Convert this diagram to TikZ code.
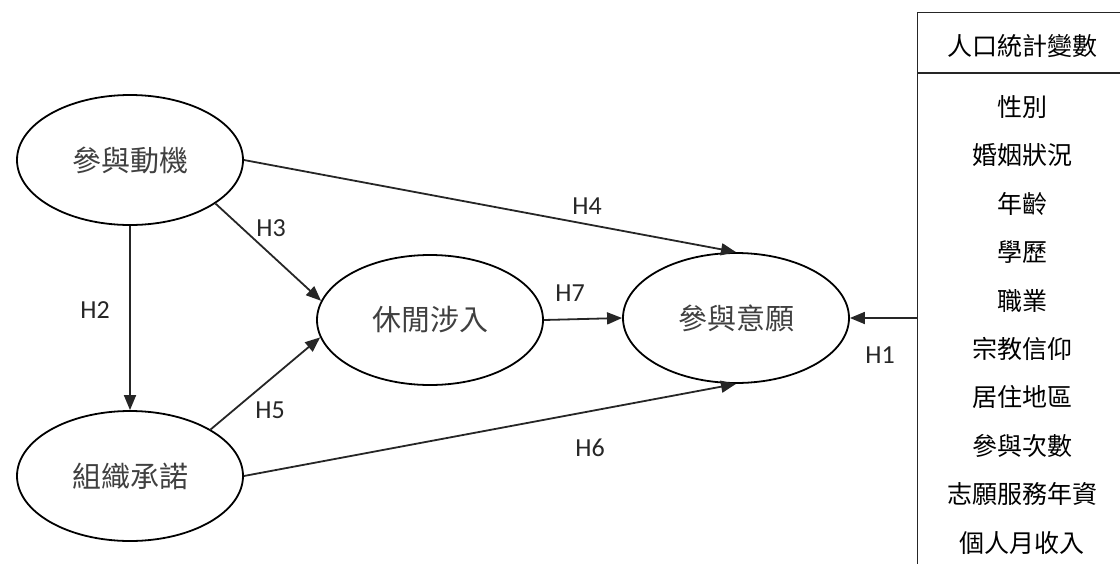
\documentclass[tikz,border=0pt]{standalone}
\usepackage{fontspec}
\setmainfont{Carlito}
\newfontfamily\cjk{Noto Sans CJK TC}
\usetikzlibrary{arrows.meta, shapes.geometric}
\definecolor{ink}{HTML}{262626}
\definecolor{txtgray}{HTML}{404040}

\begin{document}
\begin{tikzpicture}[x=1pt, y=-1pt,
  latent/.style = {draw=black, line width=1.8pt, ellipse, minimum width=226pt, minimum height=130pt, inner sep=0pt, font=\cjk\fontsize{29}{34}\selectfont, text=txtgray},
  arr/.style    = {-{Triangle[length=15pt,width=12pt]}, line width=1.8pt, color=ink},
  hlbl/.style   = {font=\fontsize{26}{30}\selectfont, text=ink, inner sep=0pt},
  item/.style   = {font=\cjk\fontsize{25}{30}\selectfont, text=black, inner sep=0pt},
]
\useasboundingbox (0,0) rectangle (1120,563);
%%--- Latent constructs ---
\node[latent] (mot)     at (130, 160) {參與動機};
\node[latent] (org)     at (130, 476) {組織承諾};
\node[latent] (leis)    at (430, 320) {休閒涉入};
\node[latent] (intent)  at (736, 318) {參與意願};
%%--- Demographic variables (box runs off the page edge) ---
\node[draw=ink, line width=1.2pt, anchor=north west, minimum width=230pt, minimum height=580pt, inner sep=0pt] (demog) at (917, 12) {};
\draw[ink, line width=1.2pt] (917, 73) -- (1130, 73);
\node[item] (dhead) at (1022, 46) {人口統計變數};
\foreach \txt [count=\i from 0] in {性別, 婚姻狀況, 年齡, 學歷, 職業, 宗教信仰, 居住地區, 參與次數, 志願服務年資, 個人月收入}
  \node[item] (d\i) at (1022, 107+48.4*\i) {\txt};
%%--- Hypothesised paths ---
\draw[arr] (mot.south) -- (org.north);
\draw[arr] (mot.-27) -- (leis.170);
\draw[arr] (org.30) -- (leis.189);
\draw[arr] (mot.east) -- (intent.north);
\draw[arr] (org.east) -- (intent.south);
\draw[arr] (leis.east) -- (intent.west);
\draw[arr] (demog.west |- intent.east) -- (intent.east);
%%--- Path labels ---
\node[hlbl] (h1) at (880, 355) {H1};
\node[hlbl] (h2) at (95, 310)  {H2};
\node[hlbl] (h3) at (271, 228) {H3};
\node[hlbl] (h4) at (587, 206) {H4};
\node[hlbl] (h5) at (270, 410) {H5};
\node[hlbl] (h6) at (590, 448) {H6};
\node[hlbl] (h7) at (570, 293) {H7};
\end{tikzpicture}
\end{document}
